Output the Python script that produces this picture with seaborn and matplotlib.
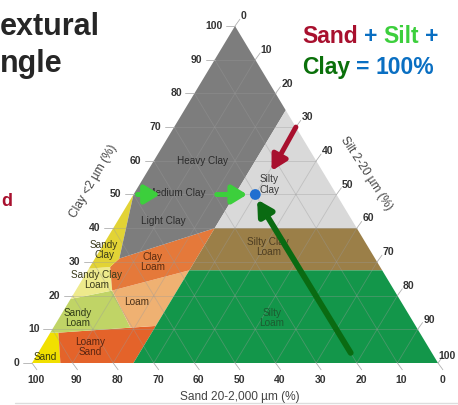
import matplotlib
matplotlib.use("Agg")
import matplotlib.pyplot as plt
import seaborn as sns
import pandas as pd

# --- Texture classes: polygon corners as (clay %, silt %) ---
SAND = [(0, 0), (0, 7), (9, 2), (9, 0)]
LOAMY_SAND = [(0, 7), (0, 25), (11, 25), (9, 2)]
SANDY_LOAM = [(9, 0), (9, 2), (10.5, 19), (21.5, 9), (19, 0)]
LOAM = [(10.5, 19), (11, 25), (27.5, 25), (21.5, 9)]
SANDY_CLAY_LOAM = [(19, 0), (21.5, 9), (28.5, 5), (28, 0)]
CLAY_LOAM = [(21.5, 9), (27.5, 25), (40, 25), (31, 6), (28.5, 5)]
SANDY_CLAY = [(28, 0), (28.5, 5), (31, 6), (50, 0)]
CLAY = [(50, 0), (31, 6), (40, 25), (75, 25), (100, 0)]
SILTY_CLAY = [(40, 25), (75, 25), (40, 60)]
SILTY_CLAY_LOAM = [(27.5, 25), (40, 25), (40, 60), (27.5, 72.5)]
SILTY_LOAM = [(0, 25), (27.5, 25), (27.5, 72.5), (0, 100)]

CLASSES = [SAND, LOAMY_SAND, SANDY_LOAM, LOAM, SANDY_CLAY_LOAM, CLAY_LOAM,
           SANDY_CLAY, CLAY, SILTY_CLAY, SILTY_CLAY_LOAM, SILTY_LOAM]
CLASS_COLORS = ["#f1e000", "#e4632a", "#c0d466", "#efb172", "#eeea8c", "#e5793a",
                "#e2d335", "#7d7d7d", "#d9d9d9", "#9b7f48", "#13964a"]

# class names and where they are written (clay %, silt %)
LABELS = ["Heavy Clay", "Medium Clay", "Light Clay", "Silty\nClay", "Silty Clay\nLoam",
          "Sandy\nClay", "Clay\nLoam", "Sandy Clay\nLoam", "Loam", "Sandy\nLoam",
          "Silty\nLoam", "Loamy\nSand", "Sand"]
LABEL_POS = [(60, 12), (50.3, 10.5), (42, 11.4), (53, 32), (34.4, 41),
             (33.5, 1), (30, 14.6), (24.6, 3.5), (18.1, 16.6), (13.4, 4.6),
             (13.4, 52.4), (4.7, 12), (1.8, 2.3)]
LABEL_COLORS = ["#2b2b2b", "#2b2b2b", "#2b2b2b", "#3a3a3a", "#4d3d22",
                "#3a3a1a", "#5a2c10", "#3a3a1a", "#4a3018", "#2f3a15",
                "#1c5a30", "#5a2410", "#3a3a10"]

TICKS = [0, 10, 20, 30, 40, 50, 60, 70, 80, 90, 100]

# worked example: 50 % clay, 30 % silt, 20 % sand
POINT_CLAY = [50]
POINT_SILT = [30]


def tern(clay, silt):
    return silt + clay / 2.0, clay


W, H = 458, 405
fig = plt.figure(figsize=(W / 100, H / 100), dpi=100)
sns.set_style("white")
plt.rcParams["font.family"] = ["Liberation Sans", "DejaVu Sans"]

ax = fig.add_axes([32 / W, 1 - 363 / H, 406 / W, 337 / H])
ax.set_xlim(0, 100)
ax.set_ylim(0, 100)
ax.axis("off")

for poly, col in zip(CLASSES, CLASS_COLORS):
    xs, ys = zip(*[tern(c, s) for c, s in poly])
    ax.fill(xs, ys, color=col, lw=0, zorder=1)

# 10 % grid in the three directions
for v in TICKS[1:-1]:
    for a, b in [((v, 0), (v, 100 - v)), ((0, v), (100 - v, v)), ((0, 100 - v), (100 - v, 0))]:
        p, q = tern(*a), tern(*b)
        ax.plot([p[0], q[0]], [p[1], q[1]], color="#9a9a9a", lw=0.6, alpha=0.4, zorder=2)

# outer ticks and tick labels
tk = dict(fontsize=7.5, fontweight="bold", color="#333333")
for v in TICKS:
    x, y = tern(v, 0)
    ax.plot([x, x - 2.2], [y, y], color="#b0b0b0", lw=0.6, clip_on=False)
    ax.annotate(str(v), (x, y), xytext=(-9, 0), textcoords="offset points",
                ha="right", va="center", annotation_clip=False, **tk)
    x, y = tern(100 - v, v)
    ax.plot([x, x + 1.2], [y, y + 2], color="#b0b0b0", lw=0.6, clip_on=False)
    if v == 100:
        # no room to the right of the corner: keep the label inside the picture
        ax.annotate(str(v), (x, y), xytext=(13, 5), textcoords="offset points",
                    ha="right", va="center", annotation_clip=False, **tk)
    else:
        ax.annotate(str(v), (x, y), xytext=(4, 7), textcoords="offset points",
                    ha="left", va="center", annotation_clip=False, **tk)
    x, y = tern(0, 100 - v)
    ax.plot([x, x + 1.2], [y, y - 2], color="#b0b0b0", lw=0.6, clip_on=False)
    ax.annotate(str(v), (x, y), xytext=(3, -12), textcoords="offset points",
                ha="center", va="center", annotation_clip=False, **tk)

for name, (c, s), col in zip(LABELS, LABEL_POS, LABEL_COLORS):
    x, y = tern(c, s)
    ax.text(x, y, name, ha="center", va="center", fontsize=7.2, color=col,
            linespacing=1.05, zorder=4)

# arrows along clay 50, silt 30 and sand 20
lime = dict(arrowstyle="-|>,head_width=0.55,head_length=0.9", lw=3.6, color="#3ccf3c",
            shrinkA=0, shrinkB=0, mutation_scale=10)
ax.annotate("", xy=tern(50, 6.5), xytext=tern(50, 1), arrowprops=lime, zorder=5)
ax.annotate("", xy=tern(50, 28), xytext=tern(50, 20.5), arrowprops=lime, zorder=5)
ax.annotate("", xy=tern(57, 30.5), xytext=tern(70, 30),
            arrowprops=dict(arrowstyle="-|>,head_width=0.5,head_length=0.9", lw=3.6,
                            color="#a8102e", shrinkA=0, shrinkB=0, mutation_scale=10), zorder=5)
ax.annotate("", xy=tern(48.5, 31.2), xytext=tern(3, 77),
            arrowprops=dict(arrowstyle="-|>,head_width=0.5,head_length=0.9", lw=4.2,
                            color="#0a6b12", shrinkA=0, shrinkB=0, mutation_scale=10), zorder=5)

pt = pd.DataFrame({"x": [tern(c, s)[0] for c, s in zip(POINT_CLAY, POINT_SILT)],
                   "y": POINT_CLAY})
sns.scatterplot(data=pt, x="x", y="y", ax=ax, s=60, color="#1f6fd0", edgecolor="none",
                zorder=6, legend=False)

# axis titles
fig.text(93 / W, 1 - 181 / H, "Clay <2 \u00b5m (%)", rotation=60, ha="center", va="center",
         fontsize=8.6, color="#444444", rotation_mode="anchor")
fig.text(366 / W, 1 - 173 / H, "Silt 2-20 \u00b5m (%)", rotation=-57, ha="center", va="center",
         fontsize=8.6, color="#444444", rotation_mode="anchor")
fig.text(240 / W, 1 - 397 / H, "Sand 20-2,000 \u00b5m (%)", ha="center", va="center",
         fontsize=8.6, color="#444444")

# slide title fragments on the left
fig.text(0, 1 - 35 / H, "extural", fontsize=22, fontweight="bold", va="baseline")
fig.text(0, 1 - 72 / H, "ngle", fontsize=22, fontweight="bold", va="baseline")
fig.text(1 / W, 1 - 206 / H, "d", fontsize=13, fontweight="bold", color="#a8102e",
         va="baseline", ha="left")

# Sand + Silt + Clay = 100%
rend = fig.canvas.get_renderer()


def text_run(x_px, y_px, parts, gap=6):
    for s, col in parts:
        t = fig.text(x_px / W, 1 - y_px / H, s, color=col, fontsize=16.5,
                     fontweight="bold", va="baseline")
        x_px += t.get_window_extent(renderer=rend).width + gap


blue = "#0a6fc2"
text_run(302, 43, [("Sand", "#a8102e"), ("+", blue), ("Silt", "#3ccf3c"), ("+", blue)])
text_run(302, 74, [("Clay", "#0a700a"), ("=", blue), ("100%", blue)])

# slide frame line
fig.add_artist(plt.Line2D([15 / W, 1], [1 - 403 / H, 1 - 403 / H], color="#dddddd", lw=1))

fig.savefig("out.png", dpi=100)
